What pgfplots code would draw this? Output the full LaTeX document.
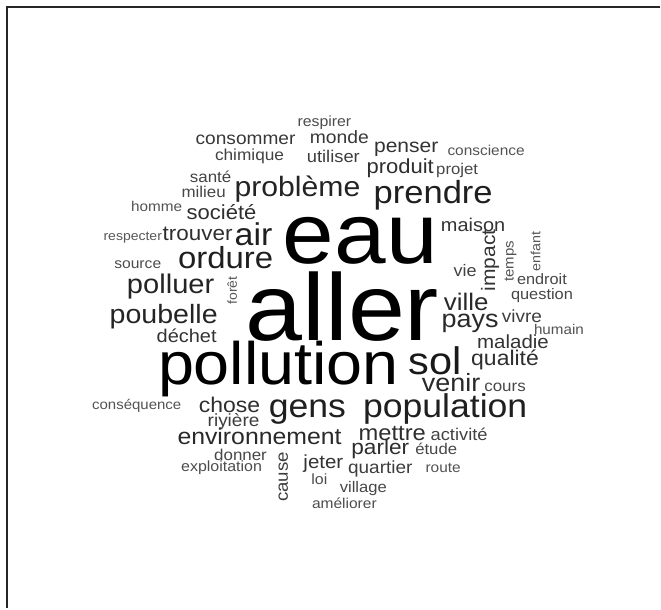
\documentclass[border=0pt]{standalone}
\usepackage{fontspec}
\setmainfont{Liberation Sans}
\usepackage{pgfplots}
\usepackage{pgfplotstable}
\pgfplotsset{compat=1.18}

% x, y: centre of the x-height (pixels, y downwards); s: font size (bp);
% r: rotation; c: percent black
\pgfplotstableread{
x   y   s    r  c   w
361 242 86   0  100 eau
343 317 95   0  100 aller
279 370 60   0  100 pollution
436 365 38.5 0  90  sol
308 410 33   0  88  gens
446 410 33   0  88  population
434 196 32   0  88  prendre
254 238 31.5 0  88  air
226 261 30.5 0  88  ordure
298 190 28   0  86  problème
171 287 27   0  86  polluer
164 317 26.5 0  86  poubelle
452 386 25   0  84  venir
471 322 25   0  84  pays
467 305 24   0  84  ville
260 439 23   0  84  environnement
393 436 22   0  82  mettre
230 408 21.3 0  82  chose
506 361 21.3 0  82  qualité
381 450 21   0  82  parler
198 236 20.8 0  82  trouver
401 169 20.4 0  82  produit
222 215 20.4 0  82  société
407 148 19.5 0  80  penser
491 261 19.5 90 80  impact
324 464 19   0  80  jeter
514 344 19   0  80  maladie
187 338 18.5 0  80  déchet
474 227 18.5 0  80  maison
246 140 17.7 0  78  consommer
340 139 17.9 0  78  monde
234 423 17.6 0  76  riyière
381 470 17.6 0  76  quartier
523 319 17.6 0  76  vivre
284 478 17.3 90 76  cause
334 158 17   0  76  utiliser
460 437 17   0  74  activité
466 273 16.7 0  74  vie
250 157 16   0  74  chimique
211 179 15.7 0  74  santé
204 194 15.7 0  72  milieu
241 457 15.7 0  72  donner
506 388 15.7 0  72  cours
458 171 15.5 0  72  projet
437 451 15.5 0  72  étude
364 489 15.4 0  72  village
543 296 15.2 0  72  question
543 281 15.1 0  72  endroit
222 469 14.8 0  70  exploitation
320 482 14.8 0  70  loi
325 123 14.7 0  70  respirer
138 265 14.5 0  70  source
345 506 14.4 0  70  améliorer
487 152 14.3 0  68  conscience
444 470 14.3 0  68  route
157 208 14.2 0  68  homme
560 331 14.1 0  68  humain
511 262 13.9 90 68  temps
137 407 13.9 0  68  conséquence
538 252 13.3 90 66  enfant
234 291 13   90 66  forêt
133 238 13   0  66  respecter
}\words

\begin{document}
\begin{tikzpicture}
\begin{axis}[
  width=661bp, height=609bp, scale only axis,
  xmin=0, xmax=661, ymin=0, ymax=609, y dir=reverse,
  hide axis, clip=false,
]
\path (axis cs:0,0) rectangle (axis cs:661,609);
\addplot[only marks, mark=none, nodes near coords, point meta=explicit symbolic,
  visualization depends on={\thisrow{s} \as \fs},
  visualization depends on={\thisrow{r} \as \rot},
  visualization depends on={\thisrow{c} \as \gr},
  nodes near coords style={anchor=base, inner sep=0pt, rotate=\rot,
    yshift=-0.259*\fs bp, xscale=1.08,
    text=black!\gr, font=\fontsize{\fs bp}{\fs bp}\selectfont},
] table[x=x, y=y, meta=w] {\words};
\draw[line width=2.5bp, black!85] (axis cs:661,7) -- (axis cs:7,7) -- (axis cs:7,609);
\end{axis}
\end{tikzpicture}
\end{document}
